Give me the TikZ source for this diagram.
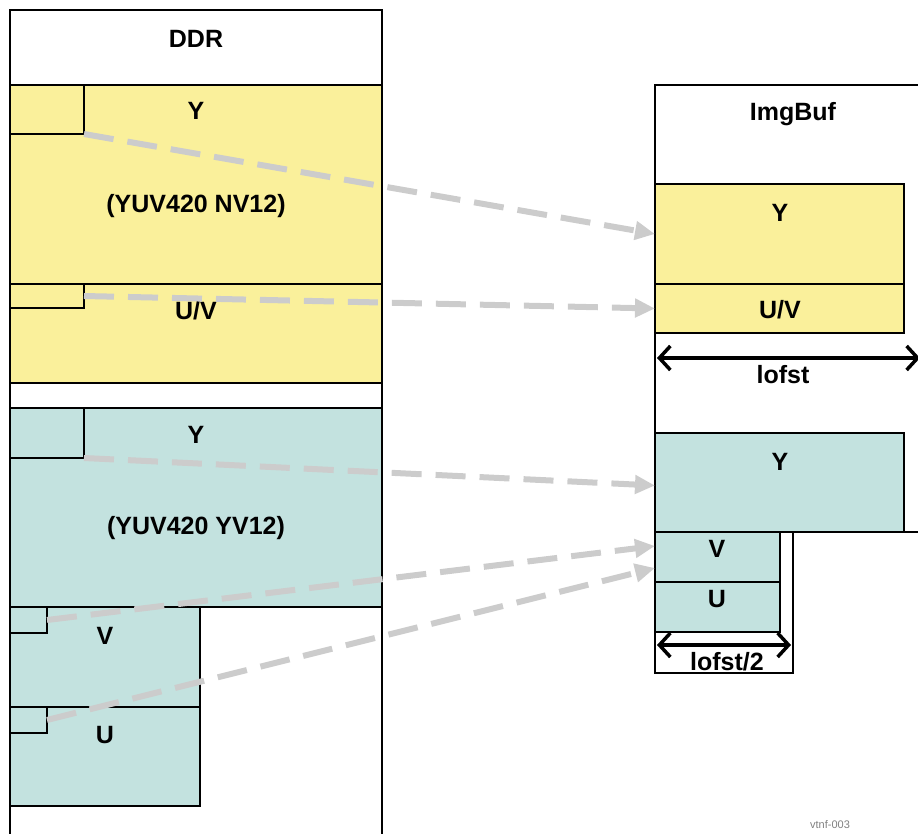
\documentclass[tikz,border=0pt]{standalone}
\usepackage{fontspec}
\setmainfont{Liberation Sans}
\usetikzlibrary{arrows.meta,calc}
\definecolor{ylw}{HTML}{FAF09B}
\definecolor{tealbox}{HTML}{C3E2DF}
\definecolor{dgray}{HTML}{CCCCCC}
\tikzset{
  box/.style={draw=black, line width=2pt, inner sep=0pt, outer sep=0pt, anchor=north west},
  ybox/.style={box, fill=ylw},
  tbox/.style={box, fill=tealbox},
  lbl/.style={font=\bfseries\fontsize{25}{30}\selectfont, inner sep=0pt},
  flow/.style={draw=dgray, line width=6pt, dash pattern=on 30pt off 14pt,
    -{Triangle[length=20pt,width=18pt]}, shorten >=0pt},
  dim/.style={line width=3.5pt, {Straight Barb[length=11pt,width=24pt]}-{Straight Barb[length=11pt,width=24pt]}}
}
\begin{document}
\begin{tikzpicture}[x=1pt,y=-1pt]
\useasboundingbox (0,0) rectangle (918,833);
% DDR column
\node[box, minimum width=372pt, minimum height=850pt] (ddr) at (10,10) {};
\node[lbl] (ddrlbl) at (196,39) {DDR};
\node[ybox, minimum width=372pt, minimum height=199pt] (nvY) at (10,85) {};
\node[ybox, minimum width=372pt, minimum height=99pt] (nvUV) at (10,284) {};
\node[box, minimum width=74pt, minimum height=49pt] (nvYs) at (10,85) {};
\node[box, minimum width=74pt, minimum height=24pt] (nvUVs) at (10,284) {};
\node[lbl] (nvYl) at (196,111) {Y};
\node[lbl] (nvname) at (196,206) {(YUV420 NV12)};
\node[lbl] (nvUVl) at (196,311) {U/V};
\node[tbox, minimum width=372pt, minimum height=199pt] (yvY) at (10,408) {};
\node[box, minimum width=74pt, minimum height=50pt] (yvYs) at (10,408) {};
\node[tbox, minimum width=190pt, minimum height=100pt] (yvV) at (10,607) {};
\node[tbox, minimum width=190pt, minimum height=99pt] (yvU) at (10,707) {};
\node[box, minimum width=37pt, minimum height=26pt] (yvVs) at (10,607) {};
\node[box, minimum width=37pt, minimum height=26pt] (yvUs) at (10,707) {};
\node[lbl] (yvYl) at (196,435) {Y};
\node[lbl] (yvname) at (196,528) {(YUV420 YV12)};
\node[lbl] (yvVl) at (105,636) {V};
\node[lbl] (yvUl) at (105,735) {U};
% ImgBuf
\draw[line width=2pt] (940,85) -- (655,85) -- (655,673) -- (793,673) -- (793,532) -- (940,532);
\node[lbl] (ibl) at (793,114) {ImgBuf};
\node[ybox, minimum width=249pt, minimum height=100pt] (rY) at (655,184) {};
\node[ybox, minimum width=249pt, minimum height=49pt] (rUV) at (655,284) {};
\node[lbl] (rYl) at (780,213) {Y};
\node[lbl] (rUVl) at (780,310) {U/V};
\node[tbox, minimum width=249pt, minimum height=99pt] (rY2) at (655,433) {};
\node[tbox, minimum width=125pt, minimum height=50pt] (rV) at (655,532) {};
\node[tbox, minimum width=125pt, minimum height=50pt] (rU) at (655,582) {};
\node[lbl] (rY2l) at (780,462) {Y};
\node[lbl] (rVl) at (717,549) {V};
\node[lbl] (rUl) at (717,599) {U};
% dimensions
\coordinate (d1a) at (657,358);
\coordinate (d1b) at (920,358);
\draw[dim] (d1a) -- (d1b);
\node[lbl] (d1l) at (783,375) {lofst};
\coordinate (d2a) at (657,645);
\coordinate (d2b) at (791,645);
\draw[dim] (d2a) -- (d2b);
\node[lbl] (d2l) at (727,662) {lofst/2};
% flows
\coordinate (t4) at (655,546);
\coordinate (t5) at (655,568);
\draw[flow] (nvYs.south east) -- (rY.west);
\draw[flow] (nvUVs.east) -- (rUV.west);
\draw[flow] (yvYs.south east) -- ($(rY2.west)+(0,3)$);
\draw[flow] (yvVs.east) -- (t4);
\draw[flow] (yvUs.east) -- (t5);
\node[font=\fontsize{11}{13}\selectfont, text=gray, inner sep=0pt, anchor=north] (tag) at (830,820) {vtnf-003};
\end{tikzpicture}
\end{document}
